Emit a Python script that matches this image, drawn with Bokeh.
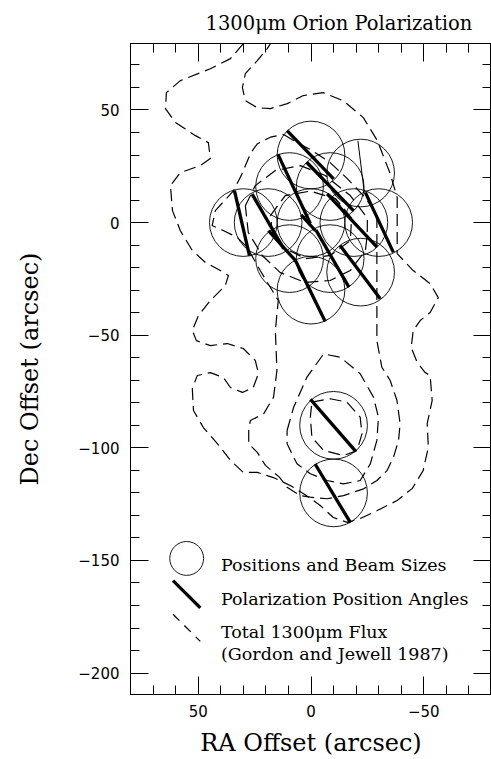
import math
from bokeh.plotting import figure
from bokeh.models import Range1d, LinearAxis, FixedTicker, CustomJSTickFormatter
from bokeh.embed import file_html
from bokeh.resources import INLINE
from bokeh.core.properties import value

# ---------------- data (arcsec offsets) ----------------
beam_ra = [0, -22, 9.5, -8.5, 30, 19, 0, -19, -30, 9.5, -8.5, -22, 0, -10, -10]
beam_dec = [30, 22, 16, 16, 0, 0, 0, 0, 0, -16, -16, -22, -30, -90, -120]
beam_radius = 15.0

vec_ra = [0.3, 7.5, -8.5, 30.6, 19.1, 1.2, -18.2, -30.3, 12.9, -9.5, -21.8, 0.3, -9.8, -9.65]
vec_dec = [30.1, 15.0, 16.0, -0.2, 0.5, -0.1, 0.9, 0.1, -10.2, -16.0, -22.0, -30.4, -90.0, -120.2]
vec_len = [29.7, 34.0, 30.0, 29.6, 28.0, 9.5, 32.4, 29.4, 17.8, 29.2, 29.6, 30.1, 30.6, 30.4]
vec_pa = [44, 25, 44, 13, 30, 42, 43, 25, 42, 30, 37, 26, 41, 31]

thin_ra = [-22.2]
thin_dec = [24.9]
thin_len = [23.0]
thin_pa = [7]

flux1_ra = [30.0, 35.7, 44.6, 57.9, 64.1, 64.5, 60.1, 51.2, 45.5, 44.6, 49.0, 57.9, 62.3, 61.4,
            57.9, 52.6, 46.8, 40.2, 36.6, 38.0, 44.6, 49.9, 52.6, 50.8, 44.6, 37.1, 30.0, 24.7,
            23.3, 25.6, 30.4, 35.7, 38.8, 44.6, 50.4, 52.6, 52.1, 47.7, 41.5, 35.7, 30.0, 23.8,
            16.7, 9.2, 2.1, -4.1, -9.9, -16.1, -21.8, -29.4, -38.2, -44.9, -49.7, -52.0, -51.5,
            -53.7, -52.8, -50.6, -47.1, -44.4, -45.3, -48.4, -52.8, -56.4, -52.8, -45.3, -38.2,
            -38.2, -38.2, -35.1, -29.4, -23.2, -14.3, -5.4, 3.4, 10.5, 18.0, 23.8, 29.1, 30.4,
            29.1, 23.8, 19.4, 18.0]
flux1_dec = [79.4, 72.8, 68.3, 63.0, 57.7, 50.6, 44.4, 38.6, 35.5, 28.4, 25.3, 22.2, 16.4, 5.3,
             -3.6, -12.4, -17.7, -21.3, -23.5, -28.0, -34.6, -41.3, -47.9, -52.4, -54.6, -53.7,
             -55.9, -61.2, -67.0, -73.2, -75.4, -73.2, -68.8, -66.6, -67.9, -73.7, -83.4, -91.0,
             -98.1, -105.6, -110.9, -110.9, -113.2, -116.7, -121.2, -125.6, -130.9, -133.1,
             -131.4, -127.8, -123.4, -118.0, -110.1, -99.8, -89.2, -79.0, -67.9, -66.6, -62.1,
             -55.5, -47.9, -43.5, -39.9, -33.3, -27.1, -21.3, -13.8, -2.2, 11.1, 21.7, 36.4,
             46.6, 54.1, 57.7, 56.4, 52.8, 50.6, 51.0, 54.1, 59.9, 66.1, 71.9, 77.2, 79.4]

flux2_ra = [12.1, 6.1, -0.6, -8.5, -16.1, -23.2, -29.2, -29.2, -29.2, -29.2, -31.4, -35.1, -38.1,
            -39.5, -38.8, -36.6, -33.7, -29.2, -23.3, -14.4, -7.1, 0.3, 4.7, 10.6, 14.0, 20.2,
            23.9, 27.6, 27.6, 26.9, 21.0, 16.6, 15.1, 15.8, 14.5, 22.5, 28.3, 32.8, 38.7, 43.8,
            42.4, 34.3, 30.6, 26.9, 23.9, 18.0, 12.1]
flux2_dec = [39.1, 35.5, 31.9, 26.6, 19.5, 12.0, 4.0, -12.4, -34.6, -52.4, -64.2, -70.1, -79.0,
             -89.3, -96.7, -104.1, -110.1, -114.5, -118.2, -121.2, -122.6, -121.9, -121.2,
             -117.5, -113.0, -107.8, -101.9, -98.2, -92.3, -87.9, -84.9, -77.5, -65.7, -47.9,
             -34.6, -21.3, -11.0, -6.5, -3.6, -1.3, 5.3, 14.2, 21.6, 30.5, 34.9, 37.9, 39.1]

flux3_ra = [10.6, 7.7, 1.8, -5.6, -13.0, -21.8, -27.7, -29.9, -29.2, -26.3, -21.8, -14.4, -7.1,
            0.3, 6.2, 10.6, 10.6]
flux3_dec = [-92.3, -82.0, -68.6, -58.3, -59.8, -67.1, -77.5, -86.4, -96.7, -107.1, -114.5,
             -116.0, -114.5, -111.5, -107.1, -98.2, -92.3]

flux4_ra = [-0.4, -8.5, -15.9, -21.8, -22.6, -20.4, -14.4, -5.6, -0.4, 0.3, -0.4]
flux4_dec = [-79.7, -78.2, -79.7, -86.4, -93.8, -101.2, -103.4, -101.2, -95.3, -86.4, -79.7]

flux5_ra = [29.1, 24.7, 15.8, 4.7, -6.3, -17.4, -25.0, -24.9, -24.1, -17.4, -8.5, 2.5, 13.6,
            21.6, 27.8, 29.1]
flux5_dec = [7.5, 16.4, 23.1, 25.3, 20.9, 12.0, 2.0, -5.8, -12.4, -21.3, -25.7, -26.6, -22.2,
             -14.6, -4.4, 7.5]

flux6_ra = [18.0, 11.4, 0.3, -11.0, -18.0, -17.4, -8.5, 2.5, 11.4, 17.1, 18.0]
flux6_dec = [3.1, 12.0, 14.0, 10.5, 2.0, -8.0, -14.6, -16.0, -11.5, -4.4, 3.1]

legend_labels = ["Positions and Beam Sizes", "Polarization Position Angles",
                 "Total 1300\u03bcm Flux", "(Gordon and Jewell 1987)"]

x_major = [-50, 0, 50]
x_minor = list(range(-80, 81, 10))
y_major = [-200, -150, -100, -50, 0, 50]
y_minor = list(range(-210, 81, 10))

# ---------------- style / layout ----------------
SERIF = "DejaVu Serif"
SANS = "DejaVu Sans"
DASH = "12 6"

p = figure(width=491, height=759, x_range=Range1d(80, -80), y_range=Range1d(-209.5, 79.5),
           output_backend="svg", toolbar_location=None,
           min_border_left=130, min_border_right=0, min_border_top=43, min_border_bottom=65,
           title="1300\u03bcm Orion Polarization")
p.title.text_font = SERIF
p.title.text_font_size = "19.5px"
p.title.text_font_style = "normal"
p.title.text_color = "black"
p.title.align = "left"
p.title.offset = 75
p.title.standoff = 17
p.grid.visible = False
p.outline_line_color = "black"
p.outline_line_width = 1
p.background_fill_color = "white"
p.border_fill_color = "white"

minus_fmt = CustomJSTickFormatter(code="return tick < 0 ? '\u2212' + Math.abs(tick) : String(tick);")
blank_fmt = CustomJSTickFormatter(code="return '';")


def style_axis(ax, major, minor, fmt):
    ax.ticker = FixedTicker(ticks=major, minor_ticks=minor)
    ax.formatter = fmt
    ax.major_tick_in = 18
    ax.major_tick_out = 0
    ax.minor_tick_in = 9
    ax.minor_tick_out = 0
    ax.major_tick_line_color = "black"
    ax.minor_tick_line_color = "black"
    ax.axis_line_color = "black"
    ax.major_label_text_font = SANS
    ax.major_label_text_font_size = "15px"
    ax.major_label_text_color = "black"
    ax.axis_label_text_font = SERIF
    ax.axis_label_text_font_size = "24px"
    ax.axis_label_text_font_style = "normal"
    ax.axis_label_text_color = "black"


style_axis(p.xaxis[0], x_major, x_minor, minus_fmt)
style_axis(p.yaxis[0], y_major, y_minor, minus_fmt)
p.xaxis[0].axis_label = "RA Offset (arcsec)"
p.yaxis[0].axis_label = "Dec Offset (arcsec)"
p.xaxis[0].major_label_standoff = 10
p.yaxis[0].major_label_standoff = 11
p.xaxis[0].axis_label_standoff = 9
p.yaxis[0].axis_label_standoff = 31

top_ax = LinearAxis()
right_ax = LinearAxis()
style_axis(top_ax, x_major, x_minor, blank_fmt)
style_axis(right_ax, y_major, y_minor, blank_fmt)
for ax in (top_ax, right_ax):
    ax.major_label_standoff = 0
    ax.major_label_text_font_size = "1px"
p.add_layout(top_ax, "above")
p.add_layout(right_ax, "right")

# ---------------- flux contours ----------------
for cra, cdec in ((flux1_ra, flux1_dec), (flux2_ra, flux2_dec), (flux3_ra, flux3_dec),
                  (flux4_ra, flux4_dec), (flux5_ra, flux5_dec), (flux6_ra, flux6_dec)):
    p.line(cra, cdec, line_color="black", line_width=1.2, line_dash=DASH)

# ---------------- beams ----------------
p.circle(x=beam_ra, y=beam_dec, radius=beam_radius, fill_color=None,
         line_color="black", line_width=0.9)


# ---------------- polarization vectors ----------------
def seg_ends(ra, dec, ln, pa):
    x0, y0, x1, y1 = [], [], [], []
    for r, d, l, a in zip(ra, dec, ln, pa):
        s, c = math.sin(math.radians(a)), math.cos(math.radians(a))
        x0.append(r + 0.5 * l * s)
        y0.append(d + 0.5 * l * c)
        x1.append(r - 0.5 * l * s)
        y1.append(d - 0.5 * l * c)
    return x0, y0, x1, y1


x0, y0, x1, y1 = seg_ends(vec_ra, vec_dec, vec_len, vec_pa)
p.segment(x0, y0, x1, y1, line_color="black", line_width=3.3)
x0, y0, x1, y1 = seg_ends(thin_ra, thin_dec, thin_len, thin_pa)
p.segment(x0, y0, x1, y1, line_color="black", line_width=1.0)

# ---------------- key (placement only) ----------------
key_ra = 55.1
key_dec = [-149.1, -165.0, -179.9]
key_radius = 7.5
key_len = 17.1
key_text_ra = 39.9
key_text_dec = [-152.2, -166.9, -181.9, -191.3]

p.circle(x=[key_ra], y=[key_dec[0]], radius=key_radius, fill_color=None,
         line_color="black", line_width=0.9)
kx0, ky0, kx1, ky1 = seg_ends([key_ra], [key_dec[1]], [key_len], [45])
p.segment(kx0, ky0, kx1, ky1, line_color="black", line_width=3.3)
kx0, ky0, kx1, ky1 = seg_ends([key_ra], [key_dec[2]], [key_len], [45])
p.segment(kx0, ky0, kx1, ky1, line_color="black", line_width=1.2, line_dash="9 7")

p.text(x=[key_text_ra] * 4, y=key_text_dec, text=legend_labels, text_font=value(SERIF),
       text_font_size="17.5px", text_color="black", text_baseline="alphabetic", text_align="left")

open("out.html", "w").write(file_html(p, INLINE))
